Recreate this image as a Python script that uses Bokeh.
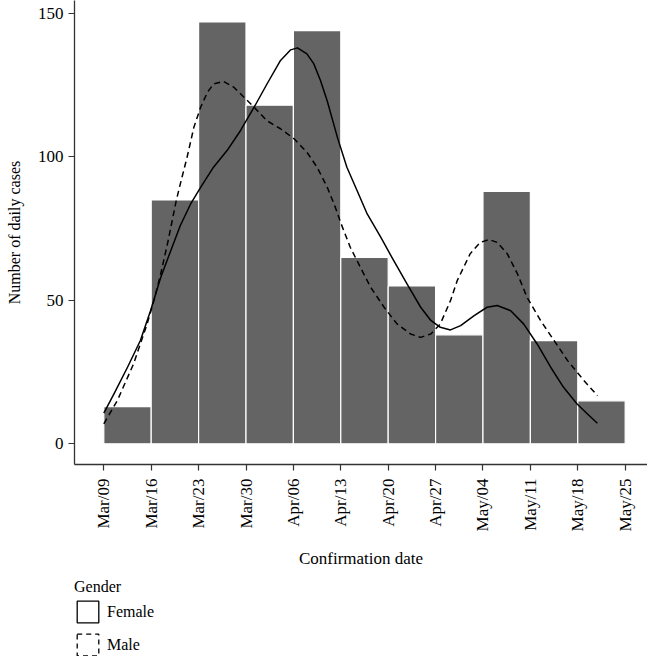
from bokeh.plotting import figure
from bokeh.layouts import column
from bokeh.models import (Range1d, FixedTicker, Legend, LegendItem, ColumnDataSource)
from bokeh.embed import file_html
from bokeh.resources import INLINE
from math import pi

# ---- data ----
week_labels = ["Mar/09", "Mar/16", "Mar/23", "Mar/30", "Apr/06", "Apr/13",
               "Apr/20", "Apr/27", "May/04", "May/11", "May/18", "May/25"]
weekly_counts = [13, 85, 147, 118, 144, 65, 55, 38, 88, 36, 15]

# smoothed curves (days since Mar/09, cases)
female_days = [0, 1.5, 3.5, 5.4, 6.9, 8.4, 9.9, 11.3, 12.8, 14.3, 16.2, 18.2, 20.2,
               22.2, 24.1, 26.1, 27.6, 28.6, 30.0, 31.0, 32.0, 33.0, 34.5, 35.9, 37.4,
               38.9, 40.9, 42.8, 44.8, 46.8, 48.3, 49.7, 51.2, 52.7, 54.7, 56.6,
               58.1, 60.1, 62.0, 64.0, 66.0, 67.9, 69.9, 71.4, 72.9]
female_vals = [10.7, 17.4, 26.7, 36.0, 46.4, 58.0, 67.4, 76.1, 83.5, 89.4, 96.4, 102.2, 109.2,
               117.3, 125.4, 133.6, 137.3, 138.0, 135.9, 132.5, 126.6, 119.5, 106.8, 96.4, 88.3,
               80.1, 72.0, 63.9, 55.7, 47.6, 43.0, 40.6, 39.7, 41.2, 44.7, 47.6,
               48.2, 46.4, 41.8, 34.8, 26.7, 19.7, 13.9, 10.5, 7.2]
male_days = [0, 2.0, 4.4, 6.4, 7.4, 8.4, 9.4, 10.1, 10.7, 11.3, 12.3, 13.3, 14.3, 15.3,
             16.2, 17.7, 19.2, 20.7, 22.2, 24.1, 26.1, 28.1, 30.0, 31.5, 33.0, 34.2,
             35.0, 36.4, 37.9, 39.4, 41.4, 43.3, 45.3, 46.8, 48.3, 49.7, 51.2, 52.2,
             54.1, 55.6, 56.9, 58.1, 59.6, 61.1, 62.5, 64.5, 66.5, 68.5, 70.9, 72.9]
male_vals = [7.0, 15.1, 27.9, 41.8, 49.9, 59.2, 69.7, 77.8, 84.8, 90.6, 99.9, 110.3, 117.3, 122.5,
             125.4, 126.3, 124.3, 120.8, 117.3, 112.6, 109.8, 106.3, 101.6, 96.4, 89.4, 82.4,
             77.0, 68.5, 61.5, 54.6, 47.6, 41.8, 38.3, 37.1, 38.3, 41.8, 49.9, 56.9,
             66.2, 70.2, 71.2, 70.2, 66.2, 59.2, 51.1, 43.0, 36.0, 29.0, 22.1, 16.8]
y_ticks = [0, 50, 100, 150]
legend_title = "Gender"
legend_labels = ["Female", "Male"]

FONT = "Liberation Serif"

p = figure(width=647, height=578, output_backend="svg", toolbar_location=None,
           x_range=Range1d(-4.33, 80.3), y_range=Range1d(-7.2, 154.5),
           min_border_left=74, min_border_top=0, min_border_right=0,
           min_border_bottom=114, background_fill_color="white",
           border_fill_color="white", outline_line_color=None)

lefts = [7 * i for i in range(len(weekly_counts))]
rights = [7 * i + 7 for i in range(len(weekly_counts))]
src = ColumnDataSource(dict(left=lefts, right=rights, top=weekly_counts,
                            bottom=[0] * len(weekly_counts)))
p.quad(left="left", right="right", top="top", bottom="bottom", source=src,
       fill_color="#646464", line_color="white", line_width=1.2)

p.line(female_days, female_vals, line_color="black", line_width=1.5, line_join="round")
p.line(male_days, male_vals, line_color="black", line_width=1.5, line_dash="6 4",
       line_join="round")

p.xgrid.visible = False
p.ygrid.visible = False

xa = p.xaxis[0]
xa.ticker = FixedTicker(ticks=[7 * i for i in range(len(week_labels))])
xa.major_label_overrides = {7 * i: lab for i, lab in enumerate(week_labels)}
xa.major_label_orientation = pi / 2
xa.axis_label = "Confirmation date"
ya = p.yaxis[0]
ya.ticker = FixedTicker(ticks=y_ticks)
ya.axis_label = "Number of daily cases"

for ax in (xa, ya):
    ax.axis_line_color = "#333333"
    ax.axis_line_width = 1.3
    ax.major_tick_line_color = "#333333"
    ax.major_tick_line_width = 1.2
    ax.major_tick_out = 6
    ax.major_tick_in = 0
    ax.minor_tick_line_color = None
    ax.major_label_text_font = FONT
    ax.major_label_text_font_size = "17px"
    ax.major_label_text_color = "black"
    ax.axis_label_text_font = FONT
    ax.axis_label_text_font_style = "normal"
    ax.axis_label_text_color = "black"
xa.axis_label_text_font_size = "17px"
ya.axis_label_text_font_size = "16px"
xa.major_label_standoff = 8
xa.axis_label_standoff = 15
ya.major_label_standoff = 5
ya.axis_label_standoff = 12

# ---- legend strip (separate figure below the chart) ----
pl = figure(width=647, height=78, output_backend="svg", toolbar_location=None,
            x_range=Range1d(0, 1), y_range=Range1d(0, 1),
            min_border_left=74, min_border_top=0, min_border_right=0, min_border_bottom=0,
            outline_line_color=None, background_fill_color="white",
            border_fill_color="white")
pl.axis.visible = False
pl.grid.visible = False
# key renderers placed outside the visible range; only their legend boxes show
rf = pl.rect(x=[-10], y=[-10], width=1, height=1, fill_alpha=0, line_color="black",
             line_width=1.3)
rm = pl.rect(x=[-10], y=[-10], width=1, height=1, fill_alpha=0, line_color="black",
             line_width=1.3, line_dash="5 4")
legend = Legend(items=[LegendItem(label=legend_labels[0], renderers=[rf]),
                       LegendItem(label=legend_labels[1], renderers=[rm])],
                location="top_left", orientation="vertical", title=legend_title,
                title_text_font=FONT, title_text_font_size="16px",
                title_text_font_style="normal", title_text_color="black",
                label_text_font=FONT, label_text_font_size="16px", label_text_color="black",
                glyph_width=27, glyph_height=27, spacing=6, padding=0, margin=0,
                label_standoff=6, title_standoff=2,
                background_fill_alpha=0, border_line_color=None)
pl.add_layout(legend, "center")

layout = column(p, pl, spacing=0)
open("out.html", "w").write(file_html(layout, INLINE))
